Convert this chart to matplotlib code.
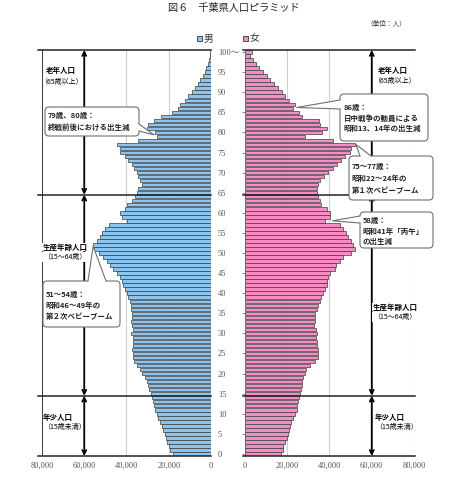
import matplotlib
matplotlib.use('Agg')
import matplotlib.pyplot as plt
from matplotlib.patches import FancyBboxPatch, Polygon, Rectangle
import numpy as np

plt.rcParams['font.family'] = ['Noto Sans CJK JP', 'DejaVu Sans']

# =============================================================================
#                               Data
# =============================================================================
ages = np.arange(0, 101)   # 100 = "100～"

male = [17800, 19400, 20000, 20600, 21300, 21700, 22500, 23300, 24100, 24900,
        25700, 26500, 27000, 27600, 28100, 28500, 29200, 29600, 30400, 31200,
        32800, 33600, 35100, 36400, 36700, 37000, 37500, 37000, 37000, 37000,
        38000, 37000, 37500, 37800, 37500, 37500, 38000, 38000, 38300, 39100,
        39900, 40700, 41500, 42200, 43000, 44600, 46500, 47800, 49300, 50900,
        52800, 55600, 55800, 54100, 52500, 51700, 50100, 48500, 39900, 42200,
        43000, 40700, 39900, 37500, 35900, 34800, 34400, 32800, 33600, 34400,
        35100, 36400, 37500, 39100, 40700, 43000, 43300, 44600, 34400, 25500,
        26500, 30500, 30000, 27000, 23500, 18500, 15500, 14500, 12500, 10800,
        9000, 7500, 6200, 5000, 4000, 3000, 2200, 1500, 1000, 600, 500]

female = [16900, 17800, 18100, 18900, 19700, 20500, 20900, 21300, 22000, 22800,
          23600, 24400, 24700, 25200, 25700, 26000, 26500, 26800, 27200, 27600,
          28300, 29100, 30700, 33100, 34600, 34600, 34600, 34200, 33900, 33500,
          34200, 33500, 32600, 33100, 33100, 33100, 33900, 34600, 35400, 36200,
          37000, 37800, 38600, 38600, 39400, 40200, 42500, 43300, 44900, 46500,
          50400, 52000, 51200, 50400, 48800, 48000, 46500, 44900, 37800, 40200,
          40200, 38600, 36200, 35400, 34600, 34000, 34000, 34500, 35500, 37500,
          39500, 41500, 43500, 45500, 47500, 49500, 50000, 52000, 41500, 28500,
          36500, 39000, 35500, 35000, 27000, 25500, 22500, 23500, 21000, 19000,
          17300, 15500, 13500, 12000, 10200, 8500, 6800, 5300, 3800, 2400, 3200]

age_ticks = list(range(0, 101, 5))
age_labels = [str(a) for a in age_ticks[:-1]] + ['100～']
x_ticks = [0, 20000, 40000, 60000, 80000]
x_labels = ['0', '20,000', '40,000', '60,000', '80,000']
group_bounds = [-0.5, 14.5, 64.5, 100.5]

c_male = '#8cc4f0'
c_female = '#f58cc4'
c_edge = '#3c3c3c'

W, H = 456, 480
fig = plt.figure(figsize=(W / 100, H / 100), dpi=100)
fig.patch.set_facecolor('white')

ax_l = fig.add_axes([42 / W, 1 - 456 / H, 169 / W, 406 / H])
ax_r = fig.add_axes([245 / W, 1 - 456 / H, 169 / W, 406 / H])

ax_l.barh(ages, male, height=0.86, color=c_male, edgecolor=c_edge, lw=0.5, zorder=3)
ax_r.barh(ages, female, height=0.86, color=c_female, edgecolor=c_edge, lw=0.5, zorder=3)

ax_l.set_xlim(80000, 0)
ax_r.set_xlim(0, 80000)

serif = ['Liberation Serif', 'Noto Sans CJK JP']
for ax in (ax_l, ax_r):
    ax.set_ylim(-0.5, 100.5)
    for s in ax.spines.values():
        s.set_visible(False)
    ax.set_xticks(x_ticks)
    ax.set_xticklabels(x_labels, fontfamily=serif, fontsize=6, color='#555555')
    ax.tick_params(axis='x', length=0, pad=4)
    for v in x_ticks[1:]:
        ax.axvline(v, color='#d0d0d0', lw=0.8, zorder=1)
    ax.set_yticks(age_ticks)

ax_l.axvline(80000, color='#222222', lw=1.2, zorder=4)
ax_l.yaxis.tick_right()
ax_l.set_yticklabels(age_labels, fontfamily=serif, fontsize=6, color='#555555')
ax_l.tick_params(axis='y', length=0, pad=5)
ax_r.set_yticklabels([])
ax_r.tick_params(axis='y', length=2, width=0.6, color='#777777')

for y in group_bounds:
    ax_l.plot([82000, 0], [y, y], color='#222222', lw=1.1, clip_on=False, zorder=4)
    ax_r.plot([-900, 80400], [y, y], color='#222222', lw=1.1, clip_on=False, zorder=4)

# arrows for the age groups
for ax in (ax_l, ax_r):
    for lo, hi in zip(group_bounds[:-1], group_bounds[1:]):
        ax.annotate('', xy=(60000, hi), xytext=(60000, lo),
                    arrowprops=dict(arrowstyle='<->', color='black', lw=1.3,
                                    shrinkA=0, shrinkB=0, mutation_scale=7),
                    zorder=4, annotation_clip=False)

# =============================================================================
#                     overlay in pixel coords for texts
# =============================================================================
ov = fig.add_axes([0, 0, 1, 1], zorder=10)
ov.set_xlim(0, W)
ov.set_ylim(H, 0)
ov.axis('off')
ov.patch.set_alpha(0)


def px(ax, x, y):
    d = ax.transData.transform((x, y))
    return d[0], H - d[1]


def callout(box, base, inward, tip, lines, tx, ty, gap):
    x0, y0, x1, y1 = box
    ov.add_patch(FancyBboxPatch((x0, y0), x1 - x0, y1 - y0,
                                boxstyle='round,pad=0,rounding_size=4',
                                fc='white', ec='#707070', lw=0.8, zorder=5))
    b0, b1 = base
    pts = [(b0[0] + inward[0], b0[1] + inward[1]), b0, tip, b1,
           (b1[0] + inward[0], b1[1] + inward[1])]
    ov.add_patch(Polygon(pts, closed=True, fc='white', ec='none', zorder=6))
    ov.plot([b0[0], tip[0], b1[0]], [b0[1], tip[1], b1[1]],
            color='#707070', lw=0.8, zorder=6)
    for i, t in enumerate(lines):
        ov.text(tx, ty + i * gap, t, fontsize=5.4, fontweight='bold',
                ha='left', va='center', color='#222222', zorder=7)


callout((45, 107, 139, 136), ((139, 124), (139, 131)), (-2, 0),
        px(ax_l, male[79] + 1500, 79.4),
        ['79歳、80歳：', '終戦前後における出生減'], 48, 115, 12.5)
callout((340, 94, 428, 141), ((340, 100), (340, 109)), (2, 0),
        px(ax_r, female[86] + 2000, 86.2),
        ['86歳：', '日中戦争の動員による', '昭和13、14年の出生減'], 344, 107, 10.8)
callout((349, 156, 433, 200), ((360, 156), (371, 156)), (0, 2),
        px(ax_r, female[77] + 500, 77),
        ['75～77歳：', '昭和22～24年の', '第１次ベビーブーム'], 352, 166.5, 11.8)
callout((360, 212, 433, 248), ((360, 216), (360, 223)), (2, 0),
        px(ax_r, female[58] + 3500, 58),
        ['58歳：', '昭和41年「丙午」', 'の出生減'], 363, 220, 10.8)
callout((43, 281, 120, 327), ((88, 281), (106, 281)), (0, 2),
        px(ax_l, male[52], 51.7),
        ['51～54歳：', '昭和46～49年の', '第２次ベビーブーム'], 46, 294, 11)

# group labels
wbg = dict(fc='white', ec='none', pad=0.4)
ov.text(61, 70, '老年人口', fontsize=5.4, fontweight='bold', ha='center', va='center')
ov.text(61, 82, '（65歳以上）', fontsize=5, ha='center', va='center')
ov.text(393, 70, '老年人口', fontsize=5.4, fontweight='bold', ha='center', va='center')
ov.text(394, 81, '（65歳以上）', fontsize=5, ha='center', va='center')
ov.text(43, 247, '生産年齢人口', fontsize=5.4, fontweight='bold', ha='left', va='center', bbox=wbg)
ov.text(43, 257, '（15～64歳）', fontsize=5, ha='left', va='center', bbox=wbg)
ov.text(373, 307, '生産年齢人口', fontsize=5.4, fontweight='bold', ha='left', va='center', bbox=wbg)
ov.text(373, 317, '（15～64歳）', fontsize=5, ha='left', va='center', bbox=wbg)
ov.text(43, 417, '年少人口', fontsize=5.4, fontweight='bold', ha='left', va='center')
ov.text(43, 427, '（15歳未満）', fontsize=5, ha='left', va='center')
ov.text(375, 417, '年少人口', fontsize=5.4, fontweight='bold', ha='left', va='center')
ov.text(375, 427, '（15歳未満）', fontsize=5, ha='left', va='center')

# legend
ov.add_patch(Rectangle((197, 35.5), 5, 5, fc=c_male, ec='#333333', lw=0.6))
ov.text(204, 38.5, '男', fontsize=7, ha='left', va='center', color='#333333')
ov.add_patch(Rectangle((243, 35.5), 5, 5, fc=c_female, ec='#333333', lw=0.6))
ov.text(250, 38.5, '女', fontsize=7, ha='left', va='center', color='#333333')

# title / unit
ov.text(234, 8, '図６　千葉県人口ピラミッド', fontsize=7.3, ha='center', va='center', color='#222222')
ov.text(406, 24, '（単位：人）', fontsize=4.8, ha='right', va='center', color='#333333')

fig.savefig('out.png', dpi=100)
